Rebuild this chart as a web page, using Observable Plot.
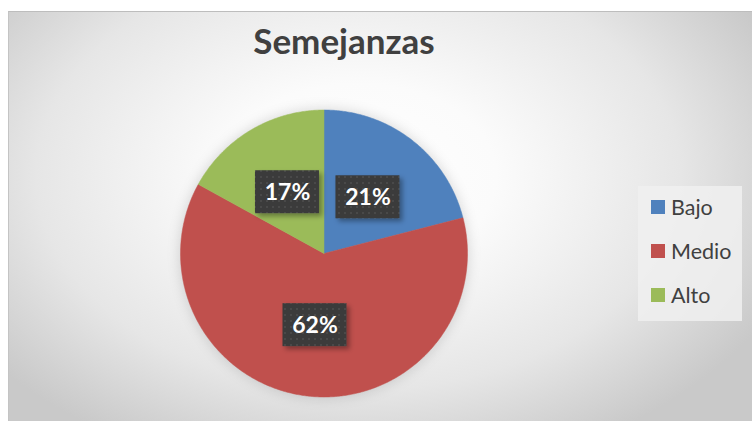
<!DOCTYPE html>
<html>
<head>
<meta charset="utf-8">
<script src="https://cdn.jsdelivr.net/npm/d3@7"></script>
<script src="https://cdn.jsdelivr.net/npm/@observablehq/plot@0.6"></script>
<style>
  html, body { margin: 0; padding: 0; background: #fff; }
  #wrap { position: relative; width: 752px; height: 421px; overflow: hidden; font-family: Lato, "Open Sans", sans-serif; }
  #bg { position: absolute; left: 8px; top: 11px; width: 744px; height: 410px;
        background: radial-gradient(ellipse 62% 75% at 47% 40%, #ffffff 0%, #fbfbfb 30%, #e6e6e6 70%, #c9c9c9 100%);
        border-top: 1px solid #bdbdbd; border-left: 1px solid #c4c4c4; box-sizing: border-box; }
  #title { position: absolute; left: 224px; width: 240px; top: 19px; text-align: center; line-height: 40px;
           font: bold 35px Lato, "Open Sans", sans-serif; color: #404040; }
  #chart { position: absolute; left: 0; top: 0; }
  #legend { position: absolute; left: 638px; top: 186px; width: 104px; height: 135px;
            background: rgba(240,240,240,0.85); }
  .item { position: absolute; left: 13px; height: 22px; display: flex; align-items: center;
          font: 21.5px Lato, "Open Sans", sans-serif; color: #404040; }
  .sw { width: 14px; height: 14px; margin-right: 6px; }
</style>
</head>
<body>
<div id="wrap">
  <div id="bg"></div>
  <div id="title"></div>
  <div id="chart"></div>
  <div id="legend"></div>
</div>
<script>
const titleText = "Semejanzas";
const categories = ["Bajo", "Medio", "Alto"];
const values = [21, 62, 17];
const colors = ["#4f81bd", "#c0504d", "#9bbb59"];
const labels = ["21%", "62%", "17%"];

document.getElementById("title").textContent = titleText;

// slice geometry from the values
const pie = d3.pie().sort(null).value(d => d)(values);
const polys = [];
pie.forEach((p, i) => {
  polys.push({cat: categories[i], x: 0, y: 0});
  const n = Math.max(2, Math.ceil((p.endAngle - p.startAngle) / (Math.PI / 360)));
  for (let k = 0; k <= n; k++) {
    const a = p.startAngle + (p.endAngle - p.startAngle) * k / n;
    polys.push({cat: categories[i], x: Math.sin(a), y: Math.cos(a)});
  }
  polys.push({cat: categories[i], x: 0, y: 0});
});
const labelData = pie.map((p, i) => {
  const a = (p.startAngle + p.endAngle) / 2;
  return {cat: categories[i], label: labels[i], x: 0.5 * Math.sin(a), y: 0.5 * Math.cos(a)};
});

const R = 143.5, cx = 323.5, cy = 253;

// label box mark (uses Plot scales)
function labelBoxes(index, scales, values, dims, context) {
  const svg = d3.create("svg:g");
  const defs = svg.append("defs");
  const pat = defs.append("pattern").attr("id", "dots").attr("width", 6).attr("height", 6)
    .attr("patternUnits", "userSpaceOnUse");
  pat.append("rect").attr("width", 6).attr("height", 6).attr("fill", "#3a3a3a");
  pat.append("rect").attr("x", 2).attr("y", 2).attr("width", 2).attr("height", 2).attr("fill", "#4a4a4a");
  const f = defs.append("filter").attr("id", "sh").attr("x", "-30%").attr("y", "-30%").attr("width", "160%").attr("height", "160%");
  f.append("feDropShadow").attr("dx", 3).attr("dy", 3).attr("stdDeviation", 2.5).attr("flood-color", "#000").attr("flood-opacity", 0.35);
  for (const d of labelData) {
    const px = scales.x(d.x), py = scales.y(d.y);
    svg.append("rect").attr("x", px - 32).attr("y", py - 21).attr("width", 64).attr("height", 43)
      .attr("fill", "url(#dots)").attr("filter", "url(#sh)");
  }
  return svg.node();
}

const plot = Plot.plot({
  width: 752, height: 421,
  margin: 0,
  style: {background: "transparent", overflow: "visible"},
  x: {domain: [-1, 1], range: [cx - R, cx + R], axis: null},
  y: {domain: [-1, 1], range: [cy + R, cy - R], axis: null},
  color: {domain: categories, range: colors},
  marks: [
    // soft pie shadow
    Plot.dot([{x: 0, y: 0}], {x: "x", y: "y", r: R + 2, fill: "#000", fillOpacity: 0.12,
      render: (i, s, v, d, c, next) => { const g = next(i, s, v, d, c); g.setAttribute("filter", "blur(6px)"); return g; }}),
    Plot.line(polys, {x: "x", y: "y", z: "cat", fill: "cat", stroke: "cat", strokeWidth: 0.5, curve: "linear"}),
    labelBoxes,
    Plot.text(labelData, {x: "x", y: "y", text: "label", fill: "white", fontSize: 23, fontWeight: "bold",
      fontFamily: "Lato, 'Open Sans', sans-serif", dy: 1})
  ]
});
document.getElementById("chart").appendChild(plot);

// legend
const leg = document.getElementById("legend");
const tops = [7, 51, 95];
categories.forEach((c, i) => {
  const it = document.createElement("div");
  it.className = "item";
  it.style.top = (tops[i] + 3) + "px";
  const sw = document.createElement("div");
  sw.className = "sw"; sw.style.background = colors[i];
  it.appendChild(sw);
  const t = document.createElement("span"); t.textContent = c;
  it.appendChild(t);
  leg.appendChild(it);
});
</script>
</body>
</html>
